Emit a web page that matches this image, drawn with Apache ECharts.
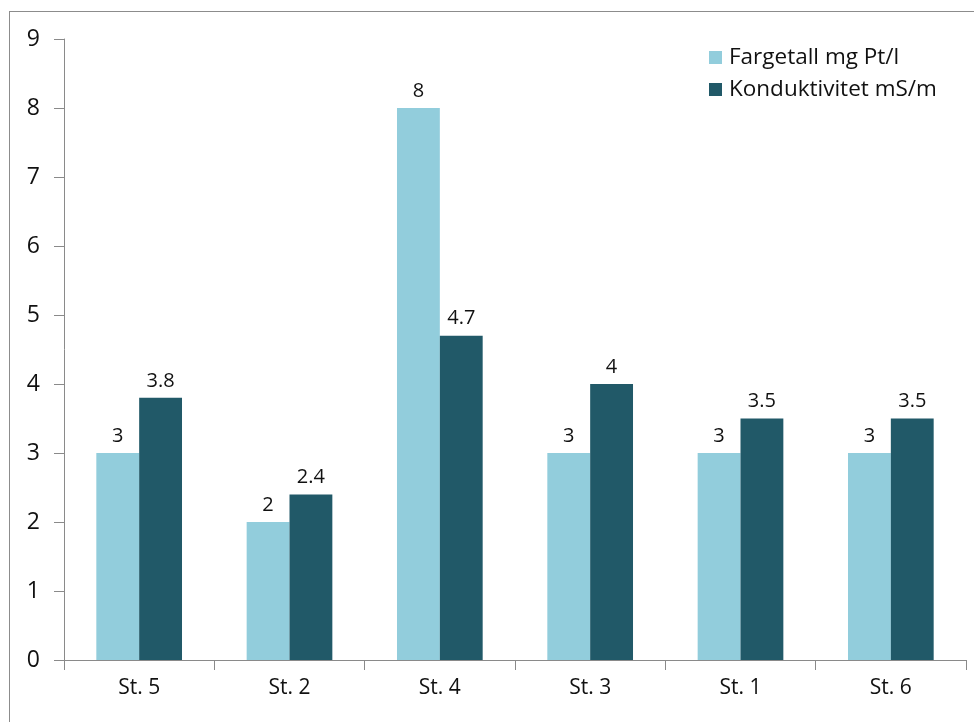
<!DOCTYPE html>
<html>
<head>
<meta charset="utf-8">
<script src="https://cdn.jsdelivr.net/npm/echarts@6/dist/echarts.min.js"></script>
<style>
  html, body { margin: 0; padding: 0; background: #fff; }
  #frame { position: absolute; left: 9px; top: 11px; width: 1000px; height: 800px; border: 1.5px solid #8c8c8c; }
  #main { position: absolute; left: 0; top: 0; width: 974px; height: 722px; }
</style>
</head>
<body>
<div id="frame"></div>
<div id="main"></div>
<script>
  // stations and values
  var stations = ['St. 5', 'St. 2', 'St. 4', 'St. 3', 'St. 1', 'St. 6'];
  var fargetall = [3, 2, 8, 3, 3, 3];
  var konduktivitet = [3.8, 2.4, 4.7, 4, 3.5, 3.5];
  var seriesNames = ['Fargetall mg Pt/l', 'Konduktivitet mS/m'];

  var font = '"Open Sans", Lato, sans-serif';
  var chart = echarts.init(document.getElementById('main'));
  chart.setOption({
    animation: false,
    textStyle: { fontFamily: font },
    grid: { left: 64, right: 8, top: 39, bottom: 62, containLabel: false },
    legend: {
      orient: 'vertical',
      left: 704, top: 41,
      icon: 'rect',
      itemWidth: 13, itemHeight: 13, itemGap: 9,
      textStyle: { fontSize: 22.5, color: '#111', fontFamily: font, padding: [0, 0, 0, 2] },
      data: seriesNames
    },
    xAxis: {
      type: 'category',
      data: stations,
      axisLine: { lineStyle: { color: '#8a8a8a', width: 1 } },
      axisTick: { show: true, length: 10, lineStyle: { color: '#8a8a8a' } },
      axisLabel: { fontSize: 21, color: '#111', margin: 18 }
    },
    yAxis: {
      type: 'value',
      min: 0, max: 9, interval: 1,
      axisLine: { show: true, lineStyle: { color: '#8a8a8a', width: 1 } },
      axisTick: { show: true, length: 10, lineStyle: { color: '#8a8a8a' } },
      splitLine: { show: false },
      axisLabel: { fontSize: 23, color: '#111', margin: 24 }
    },
    series: [
      {
        name: seriesNames[0], type: 'bar', data: fargetall,
        barGap: '0%', barCategoryGap: '43%',
        itemStyle: { color: '#92cddc' },
        label: { show: true, position: 'top', fontSize: 20, color: '#111', distance: 7 }
      },
      {
        name: seriesNames[1], type: 'bar', data: konduktivitet,
        barGap: '0%', barCategoryGap: '43%',
        itemStyle: { color: '#215968' },
        label: { show: true, position: 'top', fontSize: 20, color: '#111', distance: 7 }
      }
    ]
  });
</script>
</body>
</html>
